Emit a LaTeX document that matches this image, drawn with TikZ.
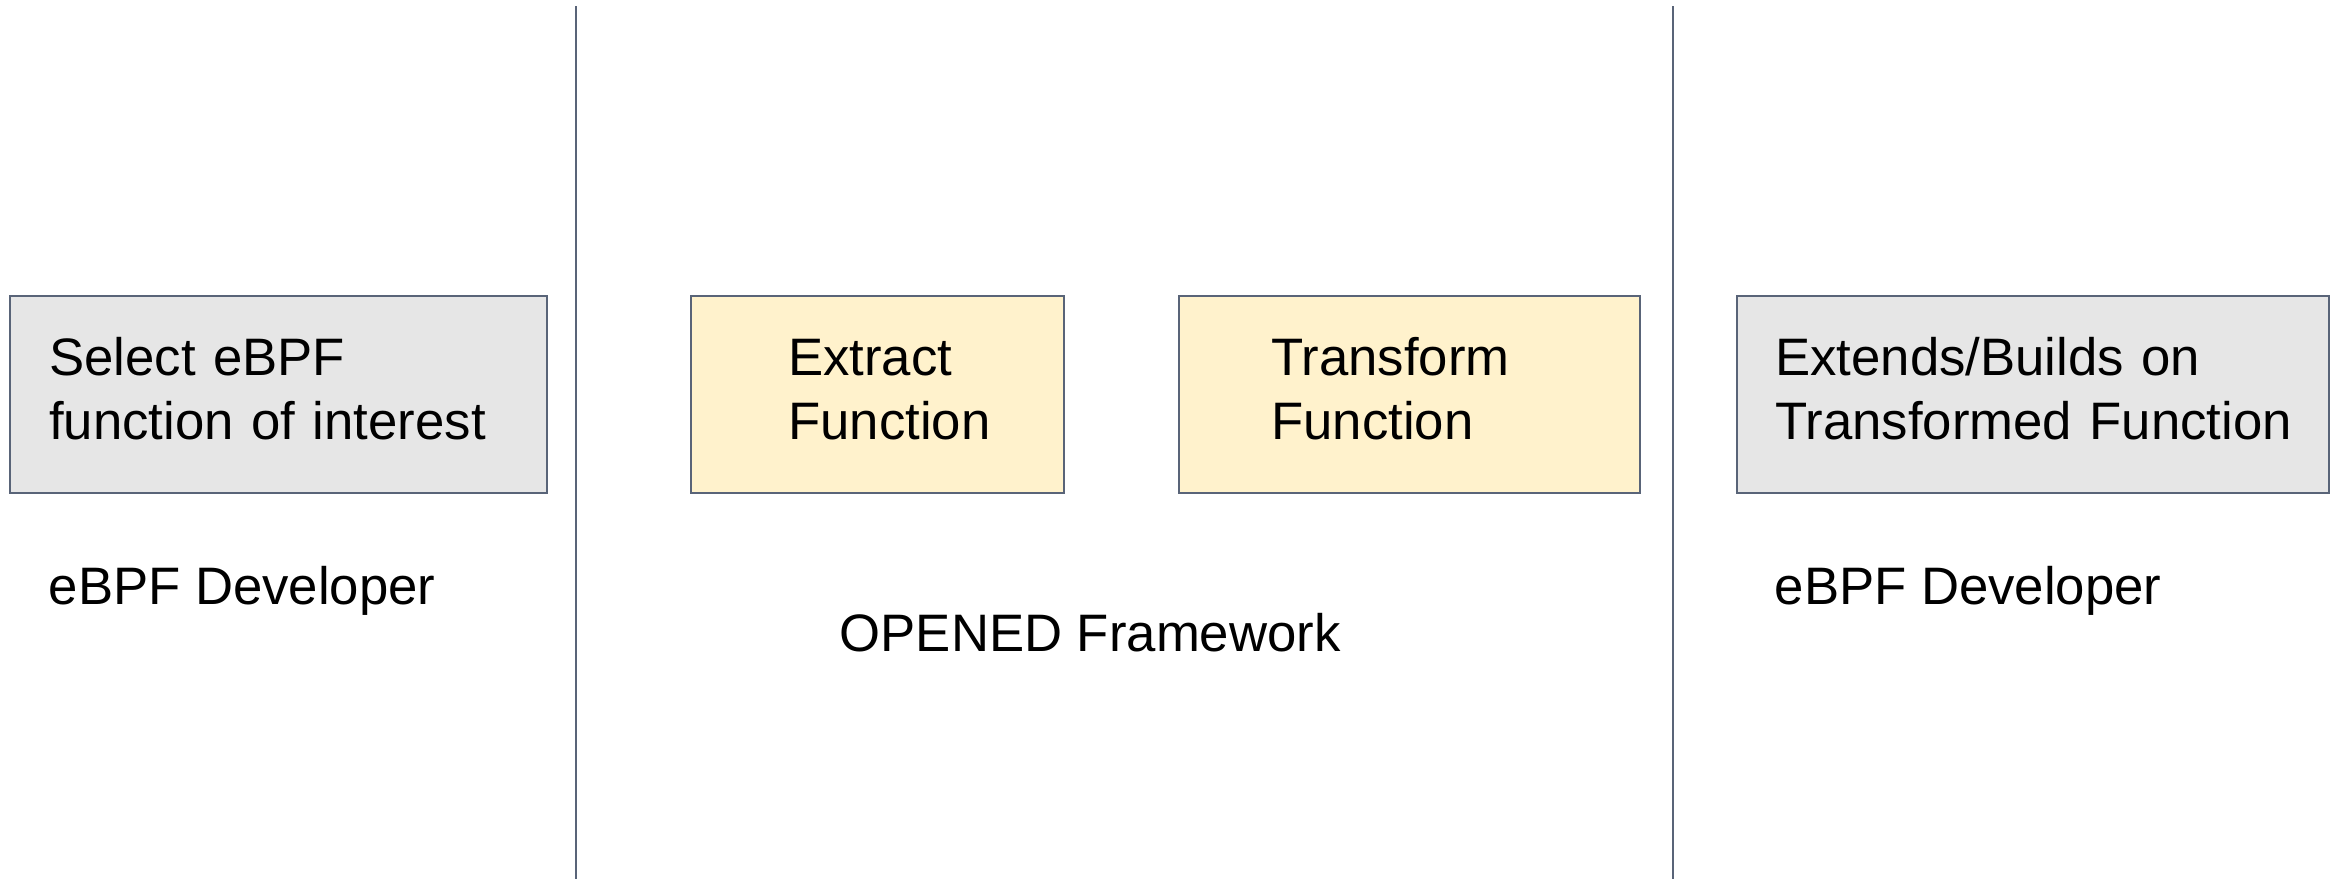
\documentclass[tikz,border=0pt]{standalone}
\usepackage{fontspec}
\setmainfont{Liberation Sans}
\usetikzlibrary{positioning}
\definecolor{edgegray}{RGB}{89,100,120}
\definecolor{boxgray}{RGB}{230,230,230}
\definecolor{boxyellow}{RGB}{255,242,204}
\tikzset{%
	textfont/.style={font=\fontsize{15}{18.2}\selectfont},%
	% #1 = left padding of the text inside the box
	stagebox/.style={textfont,draw=edgegray,line width=0.7pt,anchor=north west,
		align=left,minimum height=1.97cm,inner ysep=0pt,inner xsep=0pt,
		execute at begin node={\leftskip=#1\strut},execute at end node=\strut},%
	userbox/.style={stagebox=#1,fill=boxgray},%
	toolbox/.style={stagebox=#1,fill=boxyellow},%
	rolelabel/.style={textfont,anchor=base west,inner sep=0pt},%
	divider/.style={draw=edgegray,line width=0.7pt}%
}

\begin{document}
\begin{tikzpicture}
	\useasboundingbox (0,0) rectangle (23.38,8.79);
	
	%% dividers between the three parts
	\coordinate (divL top) at (5.76,8.73);
	\coordinate (divL bot) at (5.76,0);
	\coordinate (divR top) at (16.73,8.73);
	\coordinate (divR bot) at (16.73,0);
	\draw[divider] (divL top) -- (divL bot);
	\draw[divider] (divR top) -- (divR bot);
	
	%% the four steps
	\node[userbox=0.39cm,text width=5.37cm] (select) at (0.09,5.84)
		{Select eBPF\\function of interest};
	\node[toolbox=0.97cm,text width=3.73cm] (extract) at (6.90,5.84)
		{Extract\\Function};
	\node[toolbox=0.92cm,text width=4.61cm] (transform) at (11.78,5.84)
		{Transform\\Function};
	\node[userbox=0.38cm,text width=5.92cm] (extend) at (17.36,5.84)
		{Extends/Builds on\\Transformed Function};
	
	%% who does what
	\node[rolelabel] (devL) at (0.48,2.75) {eBPF Developer};
	\node[rolelabel] (opened) at (8.39,2.28) {OPENED Framework};
	\node[rolelabel] (devR) at (17.74,2.75) {eBPF Developer};
	
\end{tikzpicture}
\end{document}
